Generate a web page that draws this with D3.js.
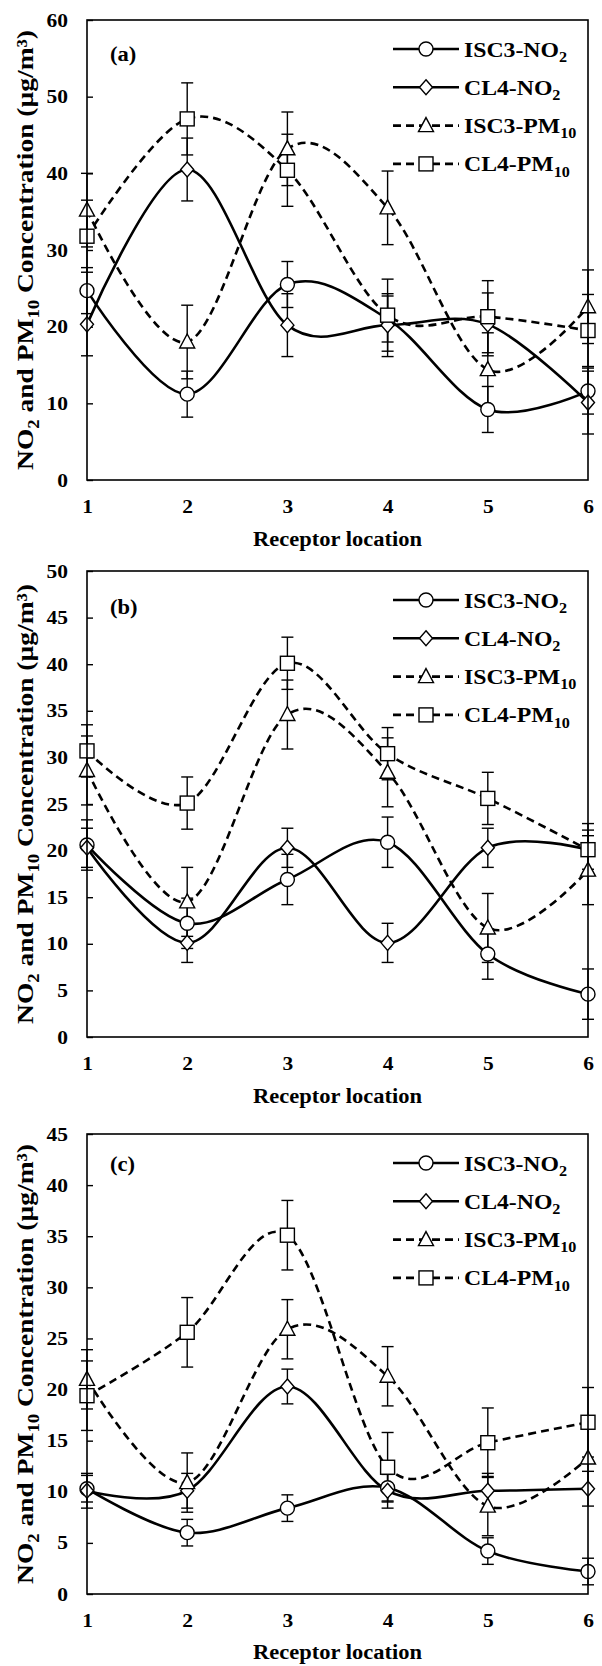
<!DOCTYPE html>
<html><head><meta charset="utf-8">
<script src="https://cdn.jsdelivr.net/npm/d3@7"></script>
<style>
body{margin:0;background:#fff}
svg text{font-family:"Liberation Serif","Times New Roman",serif;font-weight:bold;fill:#000}
</style>
</head><body>
<svg id="chart" width="602" height="1666"></svg>
<script>
// ---------- DATA ----------
const categories = [1, 2, 3, 4, 5, 6];
const seriesNames = ["ISC3-NO2", "CL4-NO2", "ISC3-PM10", "CL4-PM10"];
const panelLabels = ["(a)", "(b)", "(c)"];
const yTicksA = [0, 10, 20, 30, 40, 50, 60];
const yTicksB = [0, 5, 10, 15, 20, 25, 30, 35, 40, 45, 50];
const yTicksC = [0, 5, 10, 15, 20, 25, 30, 35, 40, 45];

// Panel (a)
const isc3NO2_a = [24.7, 11.2, 25.5, 21.0, 9.2, 11.6];
const cl4NO2_a  = [20.3, 40.5, 20.2, 20.2, 20.3, 10.1];
const isc3PM_a  = [35.2, 18.0, 43.2, 35.5, 14.4, 22.6];
const cl4PM_a   = [31.8, 47.1, 40.4, 21.5, 21.3, 19.5];
const isc3NO2_a_err = [3.0, 3.0, 3.0, 3.0, 3.0, 3.0];
const cl4NO2_a_err  = [4.1, 4.1, 4.1, 4.1, 4.1, 4.1];
const isc3PM_a_err  = [4.8, 4.8, 4.8, 4.8, 4.8, 4.8];
const cl4PM_a_err   = [4.7, 4.7, 4.7, 4.7, 4.7, 4.7];

// Panel (b)
const isc3NO2_b = [20.6, 12.2, 16.9, 20.9, 8.9, 4.6];
const cl4NO2_b  = [20.3, 10.1, 20.3, 10.1, 20.3, 20.1];
const isc3PM_b  = [28.6, 14.5, 34.6, 28.4, 11.7, 17.9];
const cl4PM_b   = [30.7, 25.1, 40.1, 30.4, 25.6, 20.1];
const isc3NO2_b_err = [2.7, 2.7, 2.7, 2.7, 2.7, 2.7];
const cl4NO2_b_err  = [2.1, 2.1, 2.1, 2.1, 2.1, 2.1];
const isc3PM_b_err  = [3.7, 3.7, 3.7, 3.7, 3.7, 3.7];
const cl4PM_b_err   = [2.8, 2.8, 2.8, 2.8, 2.8, 2.8];

// Panel (c)
const isc3NO2_c = [10.3, 6.0, 8.4, 10.4, 4.2, 2.2];
const cl4NO2_c  = [10.1, 10.1, 20.3, 10.1, 10.1, 10.3];
const isc3PM_c  = [21.0, 10.9, 25.9, 21.3, 8.6, 13.3];
const cl4PM_c   = [19.4, 25.6, 35.1, 12.4, 14.8, 16.8];
const isc3NO2_c_err = [1.3, 1.3, 1.3, 1.3, 1.3, 1.3];
const cl4NO2_c_err  = [1.7, 1.7, 1.7, 1.7, 1.7, 1.7];
const isc3PM_c_err  = [2.9, 2.9, 2.9, 2.9, 2.9, 2.9];
const cl4PM_c_err   = [3.4, 3.4, 3.4, 3.4, 3.4, 3.4];

// ---------- LAYOUT ----------
const svg = d3.select("#chart");
const left = 87, right = 588;
const panels = [
  {label: panelLabels[0], ticks: yTicksA, top: 20,   bottom: 480,
   values: [isc3NO2_a, cl4NO2_a, isc3PM_a, cl4PM_a],
   errors: [isc3NO2_a_err, cl4NO2_a_err, isc3PM_a_err, cl4PM_a_err], labelY: 61},
  {label: panelLabels[1], ticks: yTicksB, top: 571,  bottom: 1037,
   values: [isc3NO2_b, cl4NO2_b, isc3PM_b, cl4PM_b],
   errors: [isc3NO2_b_err, cl4NO2_b_err, isc3PM_b_err, cl4PM_b_err], labelY: 614},
  {label: panelLabels[2], ticks: yTicksC, top: 1134, bottom: 1594,
   values: [isc3NO2_c, cl4NO2_c, isc3PM_c, cl4PM_c],
   errors: [isc3NO2_c_err, cl4NO2_c_err, isc3PM_c_err, cl4PM_c_err], labelY: 1171}
];
const styles = [
  {shape: "circle",   dash: null},
  {shape: "diamond",  dash: null},
  {shape: "triangle", dash: "8,5"},
  {shape: "square",   dash: "8,5"}
];

function drawMarker(g, shape, x, y) {
  let m;
  if (shape === "circle") m = g.append("circle").attr("cx", x).attr("cy", y).attr("r", 7);
  else if (shape === "square") m = g.append("rect").attr("x", x - 7).attr("y", y - 7).attr("width", 14).attr("height", 14);
  else if (shape === "diamond") m = g.append("path").attr("d", `M${x},${y-7.5}L${x+6.5},${y}L${x},${y+7.5}L${x-6.5},${y}Z`);
  else m = g.append("path").attr("d", `M${x},${y-8}L${x+7.5},${y+6}L${x-7.5},${y+6}Z`);
  m.attr("fill", "#fff").attr("stroke", "#000").attr("stroke-width", 1.4);
}

// parts: array of strings; items starting with "_" are subscripts
function richText(parent, parts, size) {
  const t = parent.append("text").style("font-size", size + "px");
  let prevSub = false;
  const shift = size * 0.24;
  parts.forEach(p => {
    const sub = p.startsWith("_");
    const ts = t.append("tspan").text(sub ? p.slice(1) : p);
    if (sub) { ts.style("font-size", (size * 0.68) + "px"); if (!prevSub) ts.attr("dy", shift); }
    else if (prevSub) ts.attr("dy", -shift);
    prevSub = sub;
  });
  return t;
}
function place(t, x, y, anchor, sx, rot) {
  t.attr("text-anchor", anchor);
  t.attr("transform", `translate(${x},${y})` + (rot ? ` rotate(${rot})` : "") + ` scale(${sx},1)`);
  return t;
}
function fit(t, target) {
  const w = t.node().getComputedTextLength();
  return target / w;
}

const x = d3.scaleLinear().domain([1, 6]).range([left, right]);
const legendParts = [["ISC3-NO", "_2"], ["CL4-NO", "_2"], ["ISC3-PM", "_10"], ["CL4-PM", "_10"]];

panels.forEach(p => {
  const g = svg.append("g");
  const yMax = p.ticks[p.ticks.length - 1];
  const y = d3.scaleLinear().domain([0, yMax]).range([p.bottom, p.top]);
  const SX = 1.13;

  // y axis
  const ya = g.append("g").attr("transform", `translate(${left},0)`)
    .call(d3.axisLeft(y).tickValues(p.ticks).tickSize(-6).tickPadding(19).tickSizeOuter(0));
  ya.select(".domain").remove();
  ya.selectAll("line").attr("stroke", "#000").attr("stroke-width", 1.4);
  ya.selectAll("text").style("font-size", "19px")
    .attr("transform", `scale(${SX},1)`).attr("x", -19 / SX);
  ya.attr("font-family", null).attr("font-size", null);

  // x axis
  const xa = g.append("g").attr("transform", `translate(0,${p.bottom})`)
    .call(d3.axisBottom(x).tickValues(categories).tickFormat(d3.format("d")).tickSize(0).tickPadding(20));
  xa.select(".domain").remove();
  xa.selectAll("text").style("font-size", "19px").attr("transform", `scale(${SX},1)`);
  xa.attr("font-family", null).attr("font-size", null);

  // axis titles
  const xt = richText(g, ["Receptor location"], 21);
  place(xt, (left + right) / 2, Math.min(p.bottom + 66, 1659), "middle", fit(xt, 169));
  const yt = richText(g, ["NO", "_2", " and PM", "_10", " Concentration (µg/m³)"], 24);
  place(yt, 33, (p.top + p.bottom) / 2, "middle", fit(yt, 440), -90);

  // panel label
  const pl = richText(g, [p.label], 20);
  place(pl, 110, p.labelY, "start", SX);

  // lines
  const line = d3.line().x((d, i) => x(categories[i])).y(d => y(d)).curve(d3.curveCardinal.tension(0));
  p.values.forEach((vals, si) => {
    g.append("path").datum(vals).attr("d", line).attr("fill", "none")
      .attr("stroke", "#000").attr("stroke-width", 2.6)
      .attr("stroke-dasharray", styles[si].dash);
  });
  // error bars
  p.values.forEach((vals, si) => {
    vals.forEach((v, i) => {
      const e = p.errors[si][i];
      const cx = x(categories[i]);
      const y1 = y(v + e), y2 = y(v - e);
      g.append("line").attr("x1", cx).attr("x2", cx).attr("y1", y1).attr("y2", y2).attr("stroke", "#000").attr("stroke-width", 1.4);
      [y1, y2].forEach(yy => g.append("line").attr("x1", cx - 6).attr("x2", cx + 6).attr("y1", yy).attr("y2", yy).attr("stroke", "#000").attr("stroke-width", 1.4));
    });
  });
  // markers
  p.values.forEach((vals, si) => {
    vals.forEach((v, i) => drawMarker(g, styles[si].shape, x(categories[i]), y(v)));
  });

  // frame
  g.append("rect").attr("x", left).attr("y", p.top).attr("width", right - left).attr("height", p.bottom - p.top)
    .attr("fill", "none").attr("stroke", "#000").attr("stroke-width", 1.6);

  // legend
  seriesNames.forEach((name, si) => {
    const ly = p.top + 29 + 38.3 * si;
    g.append("line").attr("x1", 393).attr("x2", 459).attr("y1", ly).attr("y2", ly)
      .attr("stroke", "#000").attr("stroke-width", 2.6).attr("stroke-dasharray", styles[si].dash);
    drawMarker(g, styles[si].shape, 426, ly);
    const lt = richText(g, legendParts[si], 22);
    place(lt, 464, ly + 7.5, "start", 1.08);
  });
});
</script>
</body></html>
